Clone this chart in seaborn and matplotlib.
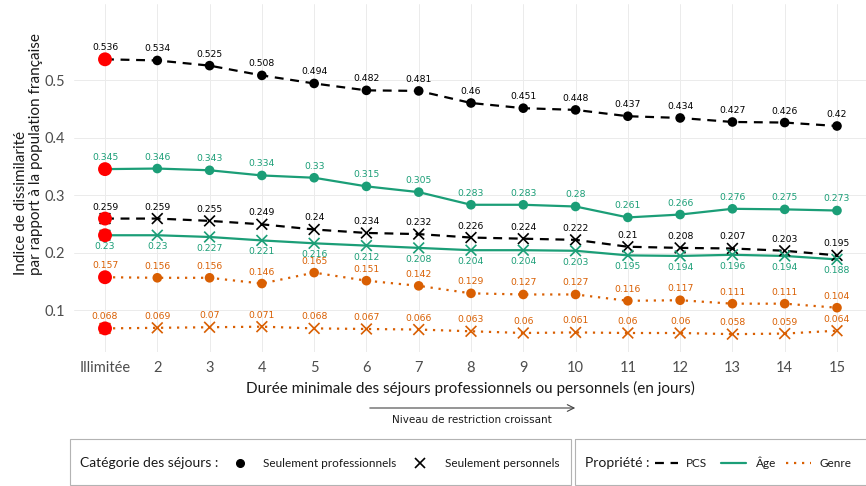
import matplotlib
matplotlib.use("Agg")
import matplotlib.pyplot as plt
from matplotlib.lines import Line2D
from matplotlib.patches import Rectangle
import pandas as pd
import seaborn as sns

# Durée minimale des séjours (axe des abscisses)
durees = ["Illimitée", "2", "3", "4", "5", "6", "7", "8", "9", "10",
          "11", "12", "13", "14", "15"]

# Indice de dissimilarité, séjours professionnels
pcs_pro = [0.536, 0.534, 0.525, 0.508, 0.494, 0.482, 0.481, 0.46, 0.451,
           0.448, 0.437, 0.434, 0.427, 0.426, 0.42]
age_pro = [0.345, 0.346, 0.343, 0.334, 0.33, 0.315, 0.305, 0.283, 0.283,
           0.28, 0.261, 0.266, 0.276, 0.275, 0.273]
genre_pro = [0.157, 0.156, 0.156, 0.146, 0.165, 0.151, 0.142, 0.129, 0.127,
             0.127, 0.116, 0.117, 0.111, 0.111, 0.104]

# Indice de dissimilarité, séjours personnels
pcs_perso = [0.259, 0.259, 0.255, 0.249, 0.24, 0.234, 0.232, 0.226, 0.224,
             0.222, 0.21, 0.208, 0.207, 0.203, 0.195]
age_perso = [0.23, 0.23, 0.227, 0.221, 0.216, 0.212, 0.208, 0.204, 0.204,
             0.203, 0.195, 0.194, 0.196, 0.194, 0.188]
genre_perso = [0.068, 0.069, 0.07, 0.071, 0.068, 0.067, 0.066, 0.063, 0.06,
               0.061, 0.06, 0.06, 0.058, 0.059, 0.064]

proprietes = ["PCS", "Âge", "Genre"]
categories = ["Seulement professionnels", "Seulement personnels"]
couleurs = {"PCS": "#000000", "Âge": "#1b9e77", "Genre": "#d95f02"}
tirets = {"PCS": (4, 3), "Âge": "", "Genre": (1, 2.6)}

series = {
    ("PCS", categories[0]): pcs_pro,
    ("Âge", categories[0]): age_pro,
    ("Genre", categories[0]): genre_pro,
    ("PCS", categories[1]): pcs_perso,
    ("Âge", categories[1]): age_perso,
    ("Genre", categories[1]): genre_perso,
}

rows = []
for (prop, cat), vals in series.items():
    for i, v in enumerate(vals):
        rows.append({"pos": i, "duree": durees[i], "valeur": v,
                     "propriete": prop, "categorie": cat})
df = pd.DataFrame(rows)

sns.set_theme(style="whitegrid")
plt.rcParams["font.family"] = ["Lato", "DejaVu Sans"]

W, H = 866, 486
fig = plt.figure(figsize=(W / 100, H / 100), dpi=100)
left_px, top_px, bottom_px = 74, 4, 352
ax = fig.add_axes([left_px / W, (H - bottom_px) / H,
                   1 - left_px / W, (bottom_px - top_px) / H])

# Lignes par propriété et catégorie
sns.lineplot(data=df, x="pos", y="valeur", hue="propriete", style="propriete",
             units="categorie", estimator=None, sort=False,
             palette=couleurs, dashes=tirets, linewidth=1.6,
             legend=False, ax=ax)

# Points : ronds pour le professionnel, croix pour le personnel
sns.scatterplot(data=df[df["categorie"] == categories[0]], x="pos", y="valeur",
                hue="propriete", palette=couleurs, marker="o", s=48,
                edgecolor="none", legend=False, ax=ax, zorder=3)
sns.scatterplot(data=df[df["categorie"] == categories[1]], x="pos", y="valeur",
                hue="propriete", palette=couleurs, marker="x", s=60,
                linewidth=1.2, legend=False, ax=ax, zorder=3)

# Point de référence (durée illimitée) en rouge
sns.scatterplot(data=df[df["pos"] == 0], x="pos", y="valeur", color="red",
                s=100, edgecolor="none", legend=False, ax=ax, zorder=4)

# Étiquettes de valeurs
for _, r in df.iterrows():
    below = (r["propriete"] == "Âge") and (r["categorie"] == categories[1])
    ax.annotate(f"{r['valeur']:g}", (r["pos"], r["valeur"]),
                xytext=(0, -8.3 if below else 8.3), textcoords="offset points",
                ha="center", va="center", fontsize=6.7,
                color=couleurs[r["propriete"]], family="DejaVu Sans")

ax.set_xlim(-0.593, 14.555)
ax.set_ylim(0.1 - (bottom_px - 310) / 575, 0.1 + (310 - top_px) / 575)
ax.set_xticks(range(len(durees)))
ax.set_xticklabels(durees)
ax.set_yticks([0.1, 0.2, 0.3, 0.4, 0.5])
ax.set_yticklabels(["0.1", "0.2", "0.3", "0.4", "0.5"])
ax.tick_params(axis="both", length=3.5, width=1, color="#333333",
               labelsize=10.5, labelcolor="#4d4d4d", pad=3)
for s in ax.spines.values():
    s.set_visible(False)
ax.grid(True, color="#ebebeb", linewidth=0.7)
ax.set_facecolor("white")
ax.set_xlabel("Durée minimale des séjours professionnels ou personnels (en jours)",
              fontsize=11, color="#1a1a1a", labelpad=4)
ax.set_ylabel("Indice de dissimilarité\npar rapport à la population française",
              fontsize=11, color="#1a1a1a", labelpad=1, linespacing=1.1,
              multialignment="left")
ax.yaxis.label.set_y(0.569)

# Couche en pixels pour la flèche et la légende
ov = fig.add_axes([0, 0, 1, 1], facecolor="none")
ov.set_xlim(0, W)
ov.set_ylim(H, 0)
ov.axis("off")

ov.annotate("", xy=(578, 408), xytext=(367, 408),
            arrowprops=dict(arrowstyle="->", color="#444444", lw=0.8))
ov.text(472, 420, "Niveau de restriction croissant", ha="center", va="center",
        fontsize=7.5, color="#1a1a1a", family="DejaVu Sans")

ov.add_patch(Rectangle((70, 439), 501, 46, fill=False, edgecolor="#b3b3b3",
                       lw=0.8, clip_on=False))
ov.add_patch(Rectangle((575, 439), 320, 46, fill=False, edgecolor="#b3b3b3",
                       lw=0.8, clip_on=False))
ly = 463
ov.text(80, ly, "Catégorie des séjours :", ha="left", va="center",
        fontsize=10, color="#1a1a1a")
ov.add_line(Line2D([240], [ly], marker="o", ms=5.5, color="black", ls="none"))
ov.text(263, ly, categories[0], ha="left", va="center", fontsize=8.5,
        color="#1a1a1a")
ov.add_line(Line2D([420], [ly], marker="x", ms=7, mew=1.2, color="black",
                   ls="none"))
ov.text(445, ly, categories[1], ha="left", va="center", fontsize=8.5,
        color="#1a1a1a")

ov.text(585, ly, "Propriété :", ha="left", va="center", fontsize=10,
        color="#1a1a1a")
legend_x = {"PCS": (655, 678, 686), "Âge": (721, 746, 756),
            "Genre": (786, 811, 820)}
for prop in proprietes:
    x0, x1, xt = legend_x[prop]
    ln = Line2D([x0, x1], [ly, ly], color=couleurs[prop], lw=1.6)
    if tirets[prop]:
        ln.set_dashes(tirets[prop])
    ov.add_line(ln)
    ov.text(xt, ly, prop, ha="left", va="center", fontsize=8.5,
            color="#1a1a1a")

fig.savefig("out.png", dpi=100)
